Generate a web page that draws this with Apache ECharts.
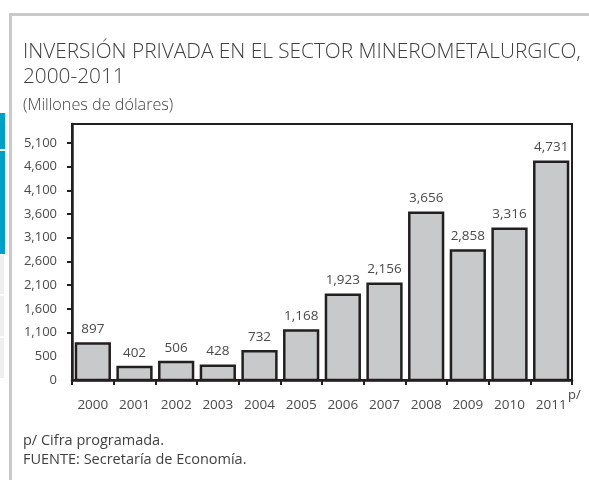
<!DOCTYPE html>
<html>
<head>
<meta charset="utf-8">
<script src="https://cdn.jsdelivr.net/npm/echarts@6/dist/echarts.min.js"></script>
<style>
  html, body { margin: 0; padding: 0; background: #fff; }
  #main { width: 589px; height: 480px; }
</style>
</head>
<body>
<div id="main"></div>
<script>
// datos
var years = ['2000', '2001', '2002', '2003', '2004', '2005', '2006', '2007', '2008', '2009', '2010', '2011'];
var inversion = [897, 402, 506, 428, 732, 1168, 1923, 2156, 3656, 2858, 3316, 4731];
var yTickValues = [100, 600, 1100, 1600, 2100, 2600, 3100, 3600, 4100, 4600, 5100];
var yTickLabels = ['0', '500', '1,100', '1,600', '2,100', '2,600', '3,100', '3,600', '4,100', '4,600', '5,100'];

var FONT = 'Open Sans';
var TXT = '#4a4a4a';

var myChart = echarts.init(document.getElementById('main'));

var option = {
  animation: false,
  textStyle: { fontFamily: FONT },
  grid: {
    left: 72, right: 17, top: 124, bottom: 100,
    show: true, borderColor: '#231f20', borderWidth: 2
  },
  xAxis: {
    type: 'category',
    data: years,
    axisLine: { lineStyle: { color: '#231f20', width: 2.5 } },
    axisTick: { show: true, alignWithLabel: false, length: 5, lineStyle: { color: '#231f20', width: 2 } },
    axisLabel: { color: TXT, fontSize: 13.5, margin: 18 }
  },
  yAxis: {
    type: 'value',
    min: 100,
    max: 5500,
    splitLine: { show: false },
    axisLine: { show: true, lineStyle: { color: '#231f20', width: 2.5 } },
    axisTick: {
      show: true, length: 5, lineStyle: { color: '#231f20', width: 2 },
      customValues: yTickValues.slice(2)
    },
    axisLabel: {
      color: TXT, fontSize: 13, margin: 15,
      customValues: yTickValues,
      formatter: function (v) {
        var i = yTickValues.indexOf(v);
        return i >= 0 ? yTickLabels[i] : '';
      }
    }
  },
  series: [
    {
      name: 'Inversión',
      type: 'bar',
      data: inversion,
      barCategoryGap: '13%',
      itemStyle: { color: '#c8c9cb', borderColor: '#231f20', borderWidth: 2.5 },
      label: {
        show: true, position: 'top', distance: 6,
        color: TXT, fontSize: 13.5,
        formatter: function (p) { return p.value.toLocaleString('en-US'); }
      }
    }
  ],
  graphic: [
    // marco de la página
    { type: 'rect', shape: { x: 9, y: 13, width: 580, height: 3 }, style: { fill: '#c9c9c9' } },
    { type: 'rect', shape: { x: 9, y: 13, width: 3, height: 467 }, style: { fill: '#c9c9c9' } },
    { type: 'rect', shape: { x: 0, y: 113, width: 5, height: 36 }, style: { fill: '#00a0c6' } },
    { type: 'rect', shape: { x: 0, y: 151, width: 5, height: 103 }, style: { fill: '#00a0c6' } },
    { type: 'rect', shape: { x: 0, y: 255, width: 4, height: 39 }, style: { fill: '#efefef' } },
    { type: 'rect', shape: { x: 0, y: 296, width: 4, height: 40 }, style: { fill: '#efefef' } },
    { type: 'rect', shape: { x: 0, y: 338, width: 4, height: 40 }, style: { fill: '#efefef' } },
    // títulos
    { type: 'text', left: 23, top: 42, style: { text: 'INVERSIÓN PRIVADA EN EL SECTOR MINEROMETALURGICO,', fill: '#3f3f3f', font: '300 20.8px "Open Sans"' } },
    { type: 'text', left: 23, top: 67, style: { text: '2000-2011', fill: '#3f3f3f', font: '300 20.8px "Open Sans"' } },
    { type: 'text', left: 23, top: 97, style: { text: '(Millones de dólares)', fill: '#3f3f3f', font: '300 16.2px "Open Sans"' } },
    { type: 'text', left: 568, top: 389, style: { text: 'p/', fill: TXT, font: '13px "Open Sans"' } },
    // notas
    { type: 'text', left: 23, top: 433, style: { text: 'p/ Cifra programada.', fill: '#3f3f3f', font: '14.5px "Open Sans"' } },
    { type: 'text', left: 23, top: 452, style: { text: 'FUENTE: Secretaría de Economía.', fill: '#3f3f3f', font: '14.5px "Open Sans"' } }
  ]
};

myChart.setOption(option);
</script>
</body>
</html>
